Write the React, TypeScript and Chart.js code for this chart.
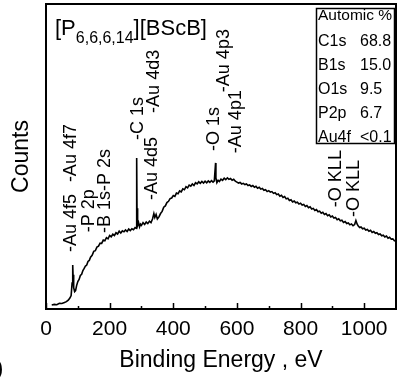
import React, { useEffect, useRef } from "react";
import { Chart, registerables } from "chart.js";

Chart.register(...registerables);

// Binding energy (eV) of the survey spectrum samples
const energy = [
  18, 26, 34, 42, 50, 58, 64, 70, 75, 79, 82, 84, 85, 87, 90, 93, 96, 100, 104, 108,
  112, 116, 120, 124, 128, 132, 136, 140, 145, 150, 155, 160, 165, 170, 175, 180, 185, 190, 195, 200,
  205, 210, 215, 220, 225, 230, 235, 240, 245, 250, 255, 260, 265, 270, 275, 280, 283, 285, 286, 288,
  291, 294, 297, 300, 305, 310, 315, 320, 325, 330, 335, 339, 342, 346, 350, 355, 360, 365, 370, 375,
  380, 385, 390, 395, 400, 405, 410, 415, 420, 425, 430, 435, 440, 445, 450, 455, 460, 465, 470, 475,
  480, 485, 490, 495, 500, 505, 510, 515, 520, 525, 529, 533, 534, 537, 541, 545, 550, 555, 560, 565,
  570, 575, 580, 585, 590, 595, 600, 605, 610, 615, 620, 625, 630, 635, 640, 645, 650, 655, 660, 665,
  670, 675, 680, 685, 690, 695, 700, 705, 710, 715, 720, 725, 730, 735, 740, 745, 750, 755, 760, 765,
  770, 775, 780, 785, 790, 795, 800, 805, 810, 815, 820, 825, 830, 835, 840, 845, 850, 855, 860, 865,
  870, 875, 880, 885, 890, 895, 900, 905, 910, 915, 920, 925, 930, 935, 940, 945, 950, 955, 960, 965,
  970, 974, 978, 982, 986, 990, 995, 1000, 1005, 1010, 1015, 1020, 1025, 1030, 1035, 1040, 1045, 1050, 1055, 1060,
  1065, 1070, 1075, 1080, 1085, 1090, 1095, 1100,
];

// Counts (arbitrary units, 0..100 of the plot height)
const counts = [
  1.3, 1.5, 1.4, 1.9, 1.8, 2.1, 2.4, 2.9, 3.6, 4.4, 8.5, 14.4, 11.2, 7.0, 5.7, 6.0, 7.6, 9.0, 9.7, 11.0,
  11.4, 12.6, 13.3, 14.1, 14.4, 15.6, 15.9, 17.0, 17.6, 18.9, 19.1, 20.3, 20.6, 21.6, 21.5, 22.6, 22.4, 23.4, 23.0, 24.1,
  23.7, 24.5, 24.1, 25.0, 24.6, 25.5, 24.9, 25.6, 25.3, 25.9, 25.4, 26.2, 25.7, 26.3, 26.0, 26.7, 26.5, 49.5, 33.0, 27.4,
  28.3, 26.9, 27.8, 27.4, 28.3, 27.7, 28.5, 28.0, 28.8, 28.3, 29.6, 31.3, 30.0, 31.0, 29.5, 30.2, 31.3, 32.0, 33.4, 33.8,
  34.9, 35.3, 36.2, 36.4, 37.2, 36.9, 38.0, 37.8, 38.7, 38.4, 39.4, 39.1, 40.1, 39.7, 40.6, 40.3, 41.0, 40.5, 41.4, 41.0,
  41.7, 41.2, 41.8, 41.3, 41.9, 41.4, 42.0, 41.5, 42.1, 41.6, 42.0, 47.9, 43.0, 41.4, 42.2, 41.8, 42.6, 42.2, 42.9, 42.4,
  43.0, 42.5, 42.8, 42.2, 42.5, 41.9, 41.6, 41.3, 41.5, 41.0, 41.2, 40.8, 41.0, 40.5, 40.7, 40.2, 40.5, 39.9, 40.2, 39.6,
  39.9, 39.3, 39.5, 38.9, 39.1, 38.5, 38.8, 38.3, 38.5, 37.9, 38.1, 37.5, 37.7, 37.0, 37.3, 36.6, 36.9, 36.1, 36.3, 35.6,
  35.8, 35.1, 35.4, 34.8, 35.0, 34.4, 34.7, 34.1, 34.3, 33.6, 33.9, 33.2, 33.5, 32.8, 33.0, 32.3, 32.6, 31.9, 32.1, 31.4,
  31.7, 31.0, 31.3, 30.6, 30.9, 30.2, 30.5, 29.8, 30.0, 29.3, 29.6, 28.9, 29.1, 28.4, 28.7, 28.0, 28.2, 27.6, 27.9, 27.3,
  27.7, 29.0, 27.8, 27.1, 26.7, 26.9, 26.3, 26.5, 25.9, 26.1, 25.5, 25.8, 25.1, 25.4, 24.8, 25.0, 24.4, 24.6, 24.0, 24.2,
  23.6, 23.9, 23.2, 23.5, 22.9, 23.0, 22.4, 22.3,
];

const xMajorTicks = [0, 200, 400, 600, 800, 1000];
const xMinorTicks = [100, 300, 500, 700, 900];

// Peak annotations: text, energy (eV) and count level where the text starts
const peakTexts = ["-Au 4f7", "-Au 4f5", "-P 2p", "-B 1s-P 2s", "-C 1s", "-Au 4d5", "-Au 4d3", "-O 1s", "-Au 4p3", "-Au 4p1", "-O KLL", "-O KLL"];
const peakEnergy = [80, 80, 134, 185, 288, 332, 338, 527, 561, 596, 913, 967];
const peakLevel = [41.6, 18.7, 25.2, 24.9, 55.4, 35.7, 64.3, 51.8, 71.1, 51.1, 33.4, 30.2];

const tableHeader = "Automic %";
const tableElements = ["C1s", "B1s", "O1s", "P2p", "Au4f"];
const tableValues = ["68.8", "15.0", "9.5", "6.7", "<0.1"];

const FONT = "'Liberation Sans', Arial, sans-serif";

const decorPlugin = {
  id: "decor",
  afterDraw(chart: any) {
    const { ctx, chartArea } = chart;
    const xs = chart.scales.x;
    const ys = chart.scales.y;
    const { left, right, top, bottom } = chartArea;
    ctx.save();
    ctx.strokeStyle = "#000";
    ctx.fillStyle = "#000";
    // frame
    ctx.lineWidth = 2;
    ctx.strokeRect(left, top, right - left, bottom - top);
    // inner ticks
    ctx.lineWidth = 1.5;
    ctx.beginPath();
    xMajorTicks.forEach((v) => {
      const px = Math.round(xs.getPixelForValue(v)) + 0.5;
      ctx.moveTo(px, bottom);
      ctx.lineTo(px, bottom - 6);
    });
    xMinorTicks.forEach((v) => {
      const px = Math.round(xs.getPixelForValue(v)) + 0.5;
      ctx.moveTo(px, bottom);
      ctx.lineTo(px, bottom - 3);
    });
    ctx.stroke();

    // peak labels
    ctx.font = `18px ${FONT}`;
    ctx.textAlign = "left";
    ctx.textBaseline = "middle";
    peakTexts.forEach((t, i) => {
      const px = xs.getPixelForValue(peakEnergy[i]);
      const py = ys.getPixelForValue(peakLevel[i]);
      ctx.save();
      ctx.translate(px, py);
      ctx.rotate(-Math.PI / 2);
      ctx.fillText(t, 0, 0);
      ctx.restore();
    });

    // compound title
    ctx.textBaseline = "alphabetic";
    ctx.font = `22px ${FONT}`;
    let x = 55;
    ctx.fillText("[P", x, 35);
    x += ctx.measureText("[P").width;
    ctx.font = `16px ${FONT}`;
    ctx.fillText("6,6,6,14", x, 43);
    x += ctx.measureText("6,6,6,14").width;
    ctx.font = `22px ${FONT}`;
    ctx.fillText("][BScB]", x, 35);

    // composition table
    ctx.lineWidth = 1.5;
    ctx.strokeRect(316.5, 8.5, 78, 135);
    ctx.font = `15.5px ${FONT}`;
    ctx.textBaseline = "middle";
    ctx.fillText(tableHeader, 318, 16);
    ctx.font = `16px ${FONT}`;
    tableElements.forEach((el, i) => {
      const y = 42 + i * 24;
      ctx.fillText(el, 318, y);
      ctx.fillText(tableValues[i], 360, y);
    });

    // cropped panel letter
    ctx.font = `22px ${FONT}`;
    ctx.textBaseline = "alphabetic";
    ctx.fillText(")", -4, 375);
    ctx.restore();
  },
};

export default function App() {
  const ref = useRef<HTMLCanvasElement>(null);
  useEffect(() => {
    document.body.style.margin = "0";
    const canvas = ref.current!;
    const chart = new Chart(canvas, {
      type: "line",
      data: {
        datasets: [
          {
            data: energy.map((e, i) => ({ x: e, y: counts[i] })),
            borderColor: "#000",
            borderWidth: 1.6,
            pointRadius: 0,
            tension: 0,
            fill: false,
          },
        ],
      },
      options: {
        animation: false,
        responsive: false,
        devicePixelRatio: 1,
        layout: { padding: { top: 4, right: 2, left: 0, bottom: 0 } },
        plugins: { legend: { display: false }, tooltip: { enabled: false } },
        scales: {
          x: {
            type: "linear",
            min: 0,
            max: 1100,
            grid: { display: false },
            border: { display: false },
            ticks: {
              stepSize: 200,
              includeBounds: false,
              autoSkip: false,
              maxRotation: 0,
              color: "#000",
              padding: 0,
              font: { size: 21, family: FONT },
              callback: (v: any) => String(v),
            },
            title: {
              display: true,
              text: "Binding Energy , eV",
              color: "#000",
              font: { size: 23, family: FONT },
              padding: { top: 0, bottom: 7 },
            },
            afterFit(scale: any) {
              scale.height = 72;
            },
          },
          y: {
            type: "linear",
            min: 0,
            max: 100,
            grid: { display: false },
            border: { display: false },
            ticks: { display: false },
            title: {
              display: true,
              text: "Counts",
              color: "#000",
              font: { size: 23, family: FONT },
              padding: { top: 8, bottom: 0 },
            },
            afterFit(scale: any) {
              scale.width = 46;
            },
          },
        },
      },
      plugins: [decorPlugin],
    });
    return () => chart.destroy();
  }, []);
  return <canvas ref={ref} width={398} height={381} style={{ display: "block" }} />;
}
